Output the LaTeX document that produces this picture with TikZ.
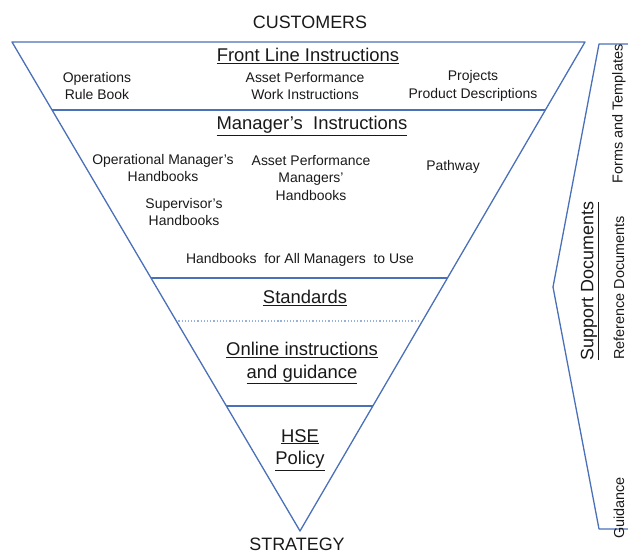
\documentclass[tikz,border=0pt]{standalone}
\usepackage{fontspec}
\setmainfont{Liberation Sans}
\usetikzlibrary{calc}
\definecolor{edge}{RGB}{74,112,184}
\definecolor{dotc}{RGB}{150,178,220}
\definecolor{ink}{RGB}{25,25,25}
\begin{document}
\begin{tikzpicture}[x=1bp,y=-1bp,
  frame/.style={draw=edge,line width=1.3bp,line join=round},
  body/.style={font=\fontsize{14}{18}\selectfont,text=ink,align=center,inner sep=0pt},
  head/.style={font=\fontsize{18.5}{23}\selectfont,text=ink,align=center,inner sep=0pt},
  side/.style={font=\fontsize{14.5}{16}\selectfont,text=ink,rotate=90,inner sep=0pt}]
\useasboundingbox (0,0) rectangle (628,554);
\coordinate (TL) at (12,42);
\coordinate (TR) at (585,42);
\coordinate (AP) at (300,531);
% triangle
\draw[frame] (TL) -- (TR) -- (AP) -- cycle;
% bands
\draw[frame] ($(TL)!0.139!(AP)$) -- ($(TR)!0.139!(AP)$);
\draw[frame] ($(TL)!0.4826!(AP)$) -- ($(TR)!0.4826!(AP)$);
\draw[frame] ($(TL)!0.7444!(AP)$) -- ($(TR)!0.7444!(AP)$);
\draw[draw=dotc,line width=1.2bp,dotted] ($(TL)!0.5706!(AP)+(2,0)$) -- ($(TR)!0.5706!(AP)-(4,0)$);
% bracket
\draw[frame] (628,44) -- (599,44) -- (553,287) -- (599,529) -- (628,529);
% texts
\node[head,font=\fontsize{18}{20}\selectfont] (cust) at (310,22) {CUSTOMERS};
\node[head,font=\fontsize{18}{20}\selectfont] (strat) at (297,544) {STRATEGY};
\node[head] (fli) at (308,56) {\underline{Front Line Instructions}};
\node[body] (ops) at (97,86) {Operations\\Rule Book};
\node[body] (apw) at (305,86) {Asset Performance\\Work Instructions};
\node[body] (proj) at (473,86) {Projects\\Product Descriptions};
\node[head] (mgr) at (312,126) {\underline{Manager’s\ \ Instructions}};
\node[body] (omh) at (163,168) {Operational Manager’s\\Handbooks};
\node[body] (apm) at (311,178) {Asset Performance\\Managers’\\Handbooks};
\node[body] (sup) at (184,212) {Supervisor’s\\Handbooks};
\node[body] (path) at (453,167) {Pathway};
\node[body] (all) at (300,260) {Handbooks\ \ for All Managers\ \ to Use};
\node[head] (std) at (305,298) {\underline{Standards}};
\node[head] (onl) at (302,363) {\underline{Online instructions}\\\underline{and guidance}};
\node[head] (hse) at (300,450) {\underline{HSE}\\\underline{Policy}};
\node[side,font=\fontsize{18}{20}\selectfont] (supd) at (590,281) {\underline{Support Documents}};
\node[side] (forms) at (619,114) {Forms and Templates};
\node[side] (ref) at (619,288) {Reference Documents};
\node[side] (guid) at (619,508) {Guidance};
\end{tikzpicture}
\end{document}
